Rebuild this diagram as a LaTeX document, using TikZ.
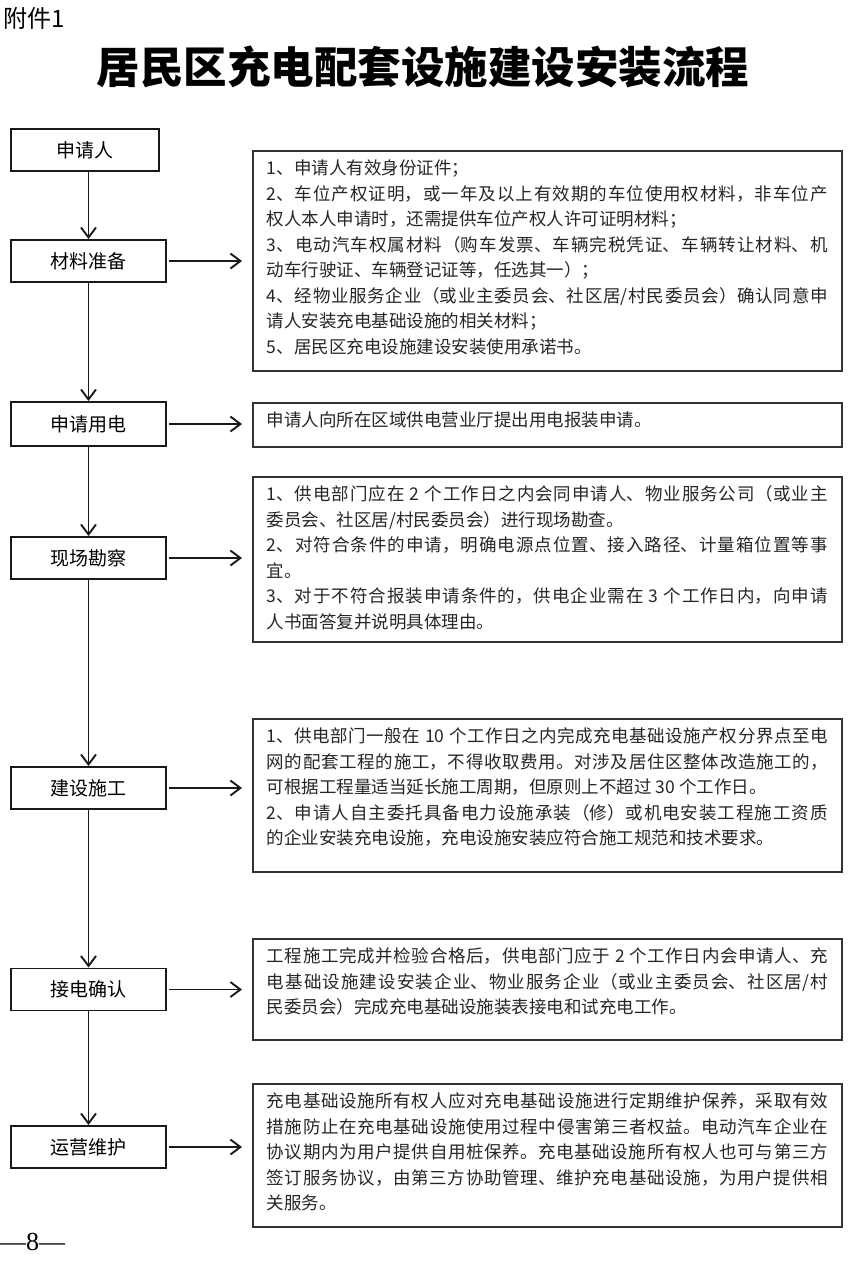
\documentclass[tikz,border=0pt]{standalone}
\usepackage{fontspec}
\setmainfont{Noto Sans CJK SC}
\newfontfamily\pagefont{Liberation Serif}
\usetikzlibrary{arrows.meta,positioning}
\XeTeXlinebreaklocale "zh"
\XeTeXlinebreakskip=0pt plus 1.5pt
\setlength{\parindent}{0pt}
\newcommand{\tailgap}[1]{\rule[-#1]{0pt}{#1}}

\begin{document}
\begin{tikzpicture}[x=1pt,y=-1pt,
stage/.style={draw=black!90,line width=1.9pt,minimum width=155pt,minimum height=42pt,font=\fontsize{19}{22}\selectfont},
note/.style={draw=black!80,line width=1.6pt,anchor=north west,text width=561pt,inner xsep=14pt,inner ysep=9pt,align=justify,text=black!85,font=\fontsize{17.5}{25.5}\selectfont},
flow/.style={-{Straight Barb[length=10pt,width=15pt]},line width=1.9pt,black!90}
]
\useasboundingbox[fill=white] (0,0) rectangle (850,1280);
\node[anchor=west,inner sep=0pt,font=\fontsize{24}{28}\selectfont] (annex) at (3,18) {附件1};
\node[inner sep=0pt,font=\fontsize{43.5}{48}\selectfont\bfseries] (title) at (423,67) {居民区充电配套设施建设安装流程};
% left column
\node[stage,minimum width=148pt] (applicant) at (85,150) {申请人};
\node[stage] (material) at (88.5,261) {材料准备};
\node[stage,minimum height=44pt] (power) at (88.5,424) {申请用电};
\node[stage] (survey) at (88.5,558) {现场勘察};
\node[stage] (build) at (88.5,788) {建设施工};
\node[stage] (connect) at (88.5,989.5) {接电确认};
\node[stage] (operate) at (88.5,1147) {运营维护};
% right column
\node[note] (doc1) at (252,150) {1、申请人有效身份证件；\par
2、车位产权证明，或一年及以上有效期的车位使用权材料，非车位产\linebreak
权人本人申请时，还需提供车位产权人许可证明材料；\par
3、电动汽车权属材料（购车发票、车辆完税凭证、车辆转让材料、机\linebreak
动车行驶证、车辆登记证等，任选其一）；\par
4、经物业服务企业（或业主委员会、社区居/村民委员会）确认同意申\linebreak
请人安装充电基础设施的相关材料；\par
5、居民区充电设施建设安装使用承诺书。\tailgap{9pt}};
\node[note] (doc2) at (252,402) {申请人向所在区域供电营业厅提出用电报装申请。\tailgap{11.6pt}};
\node[note] (doc3) at (252,476) {1、供电部门应在 2 个工作日之内会同申请人、物业服务公司（或业主\linebreak
委员会、社区居/村民委员会）进行现场勘查。\par
2、对符合条件的申请，明确电源点位置、接入路径、计量箱位置等事\linebreak
宜。\par
3、对于不符合报装申请条件的，供电企业需在 3 个工作日内，向申请\linebreak
人书面答复并说明具体理由。\tailgap{5pt}};
\node[note] (doc4) at (252,718) {1、供电部门一般在 10 个工作日之内完成充电基础设施产权分界点至电\linebreak
网的配套工程的施工，不得收取费用。对涉及居住区整体改造施工的，\linebreak
可根据工程量适当延长施工周期，但原则上不超过 30 个工作日。\par
2、申请人自主委托具备电力设施承装（修）或机电安装工程施工资质\linebreak
的企业安装充电设施，充电设施安装应符合施工规范和技术要求。\tailgap{18.6pt}};
\node[note] (doc5) at (252,938) {工程施工完成并检验合格后，供电部门应于 2 个工作日内会申请人、充\linebreak
电基础设施建设安装企业、物业服务企业（或业主委员会、社区居/村\linebreak
民委员会）完成充电基础设施装表接电和试充电工作。\tailgap{17.6pt}};
\node[note] (doc6) at (252,1083) {充电基础设施所有权人应对充电基础设施进行定期维护保养，采取有效\linebreak
措施防止在充电基础设施使用过程中侵害第三者权益。电动汽车企业在\linebreak
协议期内为用户提供自用桩保养。充电基础设施所有权人也可与第三方\linebreak
签订服务协议，由第三方协助管理、维护充电基础设施，为用户提供相\linebreak
关服务。\tailgap{8.6pt}};
\node[anchor=west,inner sep=0pt,font=\pagefont\fontsize{26}{28}\selectfont] (pageno) at (0,1242) {—8—};
% flow down the left
\draw[flow] (applicant.south -| material.north) -- (material.north);
\draw[flow] (material.south) -- (power.north);
\draw[flow] (power.south) -- (survey.north);
\draw[flow] (survey.south) -- (build.north);
\draw[flow] (build.south) -- (connect.north);
\draw[flow] (connect.south) -- (operate.north);
% arrows to the notes
\draw[flow,shorten <=2pt,shorten >=10pt] (material.east) -- (material.east -| doc1.west);
\draw[flow,shorten <=2pt,shorten >=10pt] (power.east) -- (power.east -| doc2.west);
\draw[flow,shorten <=2pt,shorten >=10pt] (survey.east) -- (survey.east -| doc3.west);
\draw[flow,shorten <=2pt,shorten >=10pt] (build.east) -- (build.east -| doc4.west);
\draw[flow,shorten <=2pt,shorten >=10pt] (connect.east) -- (connect.east -| doc5.west);
\draw[flow,shorten <=2pt,shorten >=10pt] (operate.east) -- (operate.east -| doc6.west);
\end{tikzpicture}
\end{document}
